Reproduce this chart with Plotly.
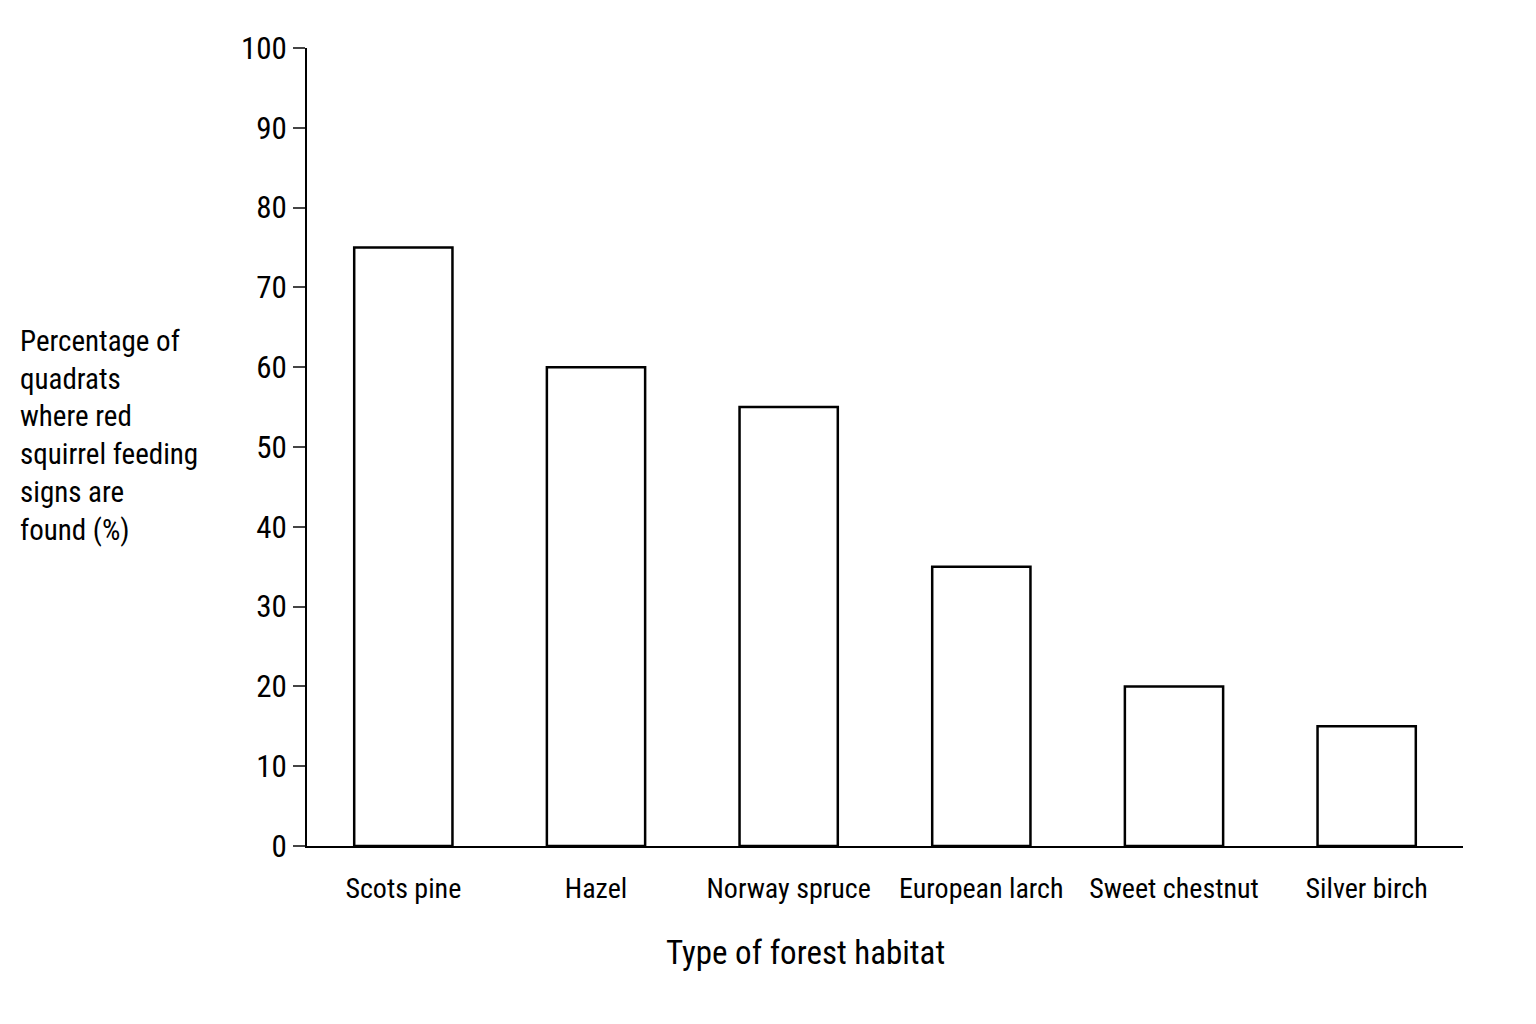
import plotly.graph_objects as go

categories = ["Scots pine", "Hazel", "Norway spruce", "European larch", "Sweet chestnut", "Silver birch"]
values = [75, 60, 55, 35, 20, 15]
yticks = [0, 10, 20, 30, 40, 50, 60, 70, 80, 90, 100]

FONT = "Liberation Sans Narrow, Arial Narrow, Roboto Condensed, Liberation Sans, sans-serif"

fig = go.Figure(go.Bar(
    x=categories, y=values,
    marker=dict(color="white", line=dict(color="black", width=2.5)),
    width=0.51,
))
W, H = 1536, 1024
L, R, T, B = 299, 81, 40, 186
pw, ph = W - L - R, H - T - B
fig.update_layout(
    width=W, height=H, plot_bgcolor="white", paper_bgcolor="white",
    margin=dict(l=L, r=R, t=T, b=B), showlegend=False,
    font=dict(family=FONT, color="black", size=27),
    xaxis=dict(showline=True, linecolor="black", linewidth=2, ticks="",
               tickfont=dict(size=28), ticklabelstandoff=16),
    yaxis=dict(range=[0, 100], tickvals=yticks, showline=True, linecolor="black",
               linewidth=2, ticks="outside", ticklen=12, tickwidth=2,
               showgrid=False, zeroline=False, tickfont=dict(size=31)),
    annotations=[
        dict(text="Percentage of<br>quadrats<br>where red<br>squirrel feeding<br>signs are<br>found (%)",
             xref="paper", yref="paper", x=(10 - L) / pw, y=(838 - 427) / ph,
             xanchor="left", yanchor="middle", align="left", showarrow=False,
             font=dict(size=29)),
        dict(text="Type of forest habitat", xref="paper", yref="paper",
             x=(797 - L) / pw, y=(838 - 945) / ph, xanchor="center", yanchor="middle",
             showarrow=False, font=dict(size=33)),
    ],
)
fig.write_html("out.html")
